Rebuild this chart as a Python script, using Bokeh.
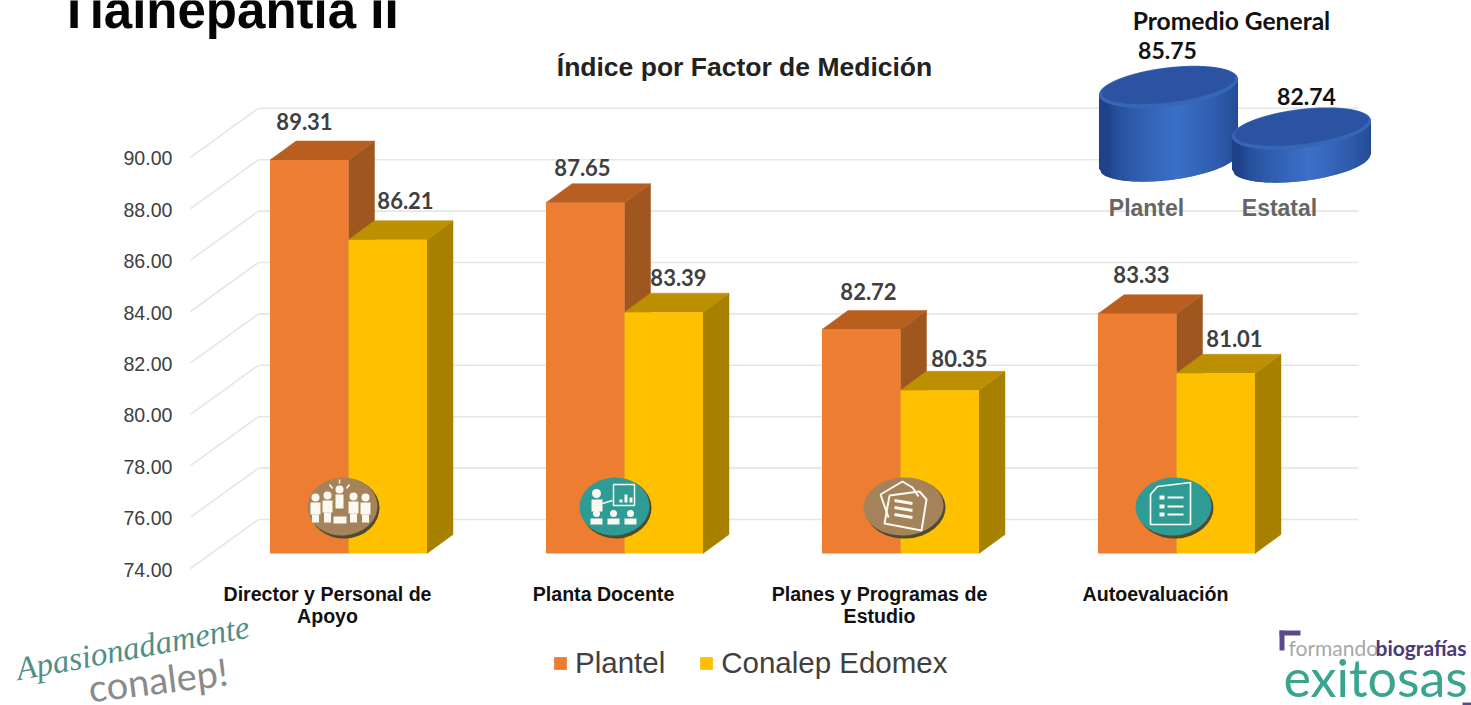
import numpy as np
from bokeh.embed import file_html
from bokeh.resources import INLINE
from bokeh.plotting import figure
from bokeh.core.properties import value
from bokeh.models import (ColumnDataSource, FixedTicker, Label, Legend, LegendItem,
                          LinearAxis, NumeralTickFormatter, Range1d)

# ---- data ----
categories = ["Director y Personal de\nApoyo", "Planta Docente",
              "Planes y Programas de\nEstudio", "Autoevaluación"]
plantel = [89.31, 87.65, 82.72, 83.33]
conalep = [86.21, 83.39, 80.35, 81.01]
axis_ticks = [74, 76, 78, 80, 82, 84, 86, 88, 90]
general_names = ["Plantel", "Estatal"]
general_values = [85.75, 82.74]
series_names = ["Plantel", "Conalep Edomex"]

# ---- layout ----
W, H = 1471, 705
GROUP_PX, JOIN0_PX = 276.0, 348.0     # group spacing, first orange/yellow join
BASE_PX, UNIT_PX = 553.0, 25.7        # value 74 on the bar plane, px per unit
BAR_PX, DX_PX, DY_PX = 78.5, 26.0, 19.0
BASE_VAL = 74.0

def X(px): return (np.asarray(px, dtype=float) - JOIN0_PX) / GROUP_PX
def Y(py): return BASE_VAL + (BASE_PX - np.asarray(py, dtype=float)) / UNIT_PX

p = figure(width=W, height=H, output_backend="svg", toolbar_location=None,
           x_range=Range1d(float(X(0)), float(X(W))),
           y_range=Range1d(float(Y(H)), float(Y(0))),
           x_axis_location=None, y_axis_location=None,
           min_border_left=0, min_border_right=0, min_border_top=0, min_border_bottom=0)
p.outline_line_color = None
p.xgrid.visible = False
p.ygrid.visible = False
p.background_fill_color = "white"

# axis plane sits in front of the bar plane
AX_SHIFT = 16.0 / UNIT_PX
p.extra_y_ranges = {"ticks": Range1d(p.y_range.start + AX_SHIFT, p.y_range.end + AX_SHIFT)}
ax = LinearAxis(y_range_name="ticks", ticker=FixedTicker(ticks=axis_ticks),
                formatter=NumeralTickFormatter(format="0.00"), fixed_location=float(X(184)))
ax.axis_line_color = None
ax.major_tick_line_color = None
ax.minor_tick_line_color = None
ax.major_label_standoff = 6
ax.major_label_text_font = "Liberation Sans"
ax.major_label_text_font_size = "19.6px"
ax.major_label_text_color = "#404040"
p.add_layout(ax, "left")

# ---- 3D wall grid ----
GRID = "#E6E6E6"
bx = float(X(258)); fx = float(X(190)); rx = float(X(1358))
back = 34.0 / UNIT_PX
side_drop = 15.0 / UNIT_PX
p.segment(x0=[fx] * len(axis_ticks), y0=[t - side_drop for t in axis_ticks],
          x1=[bx] * len(axis_ticks), y1=[t + back for t in axis_ticks],
          line_color=GRID, line_width=1.6)
p.segment(x0=[bx] * len(axis_ticks), y0=[t + back for t in axis_ticks],
          x1=[rx] * len(axis_ticks), y1=[t + back for t in axis_ticks],
          line_color=GRID, line_width=1.6)

# ---- 3D bars ----
bw, dx, dy = BAR_PX / GROUP_PX, DX_PX / GROUP_PX, DY_PX / UNIT_PX

def bars(vals, off, front, top, side):
    xl = [i + off for i in range(len(vals))]
    xr = [a + bw for a in xl]
    p.patches(xs=[[r, r + dx, r + dx, r] for r in xr],
              ys=[[BASE_VAL, BASE_VAL + dy, v + dy, v] for v in vals],
              fill_color=side, line_color=side, line_width=0.5)
    p.patches(xs=[[l, l + dx, r + dx, r] for l, r in zip(xl, xr)],
              ys=[[v, v + dy, v + dy, v] for v in vals],
              fill_color=top, line_color=top, line_width=0.5)
    return p.quad(left=xl, right=xr, bottom=[BASE_VAL] * len(vals), top=vals,
                  fill_color=front, line_color=None)

r_pl = bars(plantel, -bw, "#ED7D31", "#B85F20", "#9F571F")
r_co = bars(conalep, 0.0, "#FFC000", "#BC9000", "#A88000")

# ---- value labels ----
def labels(vals, dxs, dys):
    src = ColumnDataSource(dict(x=list(range(len(vals))), y=[v + dy for v in vals],
                                t=[f"{v:.2f}" for v in vals], dx=dxs, dy=dys))
    p.text(x="x", y="y", text="t", x_offset="dx", y_offset="dy", source=src,
           text_font=value("Lato"), text_font_style="bold", text_font_size="22px",
           text_color="#404040", text_align="center", text_baseline="middle")

labels(plantel, [-44, -42, -32, -35], [-20, -16, -19, -20])
labels(conalep, [57, 54, 59, 58], [-20, -16, -13, -16])

# ---- category labels ----
cat_src = ColumnDataSource(dict(x=[i - 21 / GROUP_PX for i in range(4)],
                                y=[float(Y(582))] * 4, t=categories))
p.text(x="x", y="y", text="t", source=cat_src, text_font=value("Liberation Sans"),
       text_font_style="bold", text_font_size="19.6px", text_color="#111111",
       text_align="center", text_baseline="top", text_line_height=1.03)

# ---- small helpers for decoration (pixel positions of the picture) ----
def label(px, py, text, size, color, font="Liberation Sans", style="normal",
          align="center", baseline="middle", angle=0.0):
    p.add_layout(Label(x=float(X(px)), y=float(Y(py)), text=text, text_font=font,
                       text_font_size=f"{size}px", text_font_style=style, text_color=color,
                       text_align=align, text_baseline=baseline, angle=angle))

def ell(cx, cy, w, h, color, deg=0.0):
    p.ellipse(x=[float(X(cx))], y=[float(Y(cy))], width=[w], height=[h],
              width_units="screen", height_units="screen", angle=[float(np.deg2rad(deg))],
              fill_color=color, line_color=None)

def box(l, t, r, b, color):
    p.quad(left=[float(X(l))], right=[float(X(r))], top=[float(Y(t))], bottom=[float(Y(b))],
           fill_color=color, line_color=None)

def path(pts, color, w=1.5):
    pts = np.array(pts, dtype=float)
    p.line(X(pts[:, 0]), Y(pts[:, 1]), line_color=color, line_width=w)

# ---- icons on the bars ----
BROWN, TEAL, SHADOW, WHITE = "#A5835A", "#2E9C95", "#4F4B2E", "#FBF8F0"
def disc(cx, cy, w, color):
    ell(cx + 2, cy + 2, w, 60, SHADOW, 3)
    ell(cx, cy, w, 58, color, 3)

disc(342, 506, 70, BROWN)
for px_, top_ in [(315, 497), (327, 495), (353, 496), (365, 497)]:
    ell(px_, top_, 8, 8, WHITE)
    box(px_ - 5, top_ + 5, px_ + 5, top_ + 17, WHITE)
    box(px_ - 3.5, top_ + 17, px_ + 3.5, 522, WHITE)
ell(339, 489, 8, 8, WHITE)
box(335, 494, 343, 508, WHITE)
box(333, 516, 346, 523, WHITE)
for a, b in [((329, 484), (332, 488)), ((339, 479), (339, 483)), ((349, 484), (346, 488))]:
    path([a, b], WHITE, 1.5)

disc(614, 506, 70, TEAL)
ell(596, 493, 9, 9, WHITE)
box(591, 499, 602, 511, WHITE)
path([(602, 503), (612, 500)], WHITE, 1.5)
path([(613, 484), (634, 484), (634, 505), (613, 505), (613, 484)], WHITE, 1.5)
for l_, t_ in [(619, 499), (624, 494), (629, 497)]:
    box(l_, t_, l_ + 3, 502, WHITE)
for cx_ in [596, 613, 630]:
    ell(cx_, 513, 7, 7, WHITE)
    box(cx_ - 6, 518, cx_ + 6, 524, WHITE)

disc(903, 506, 80, BROWN)
path([(880, 494), (902, 481), (912, 487), (918, 496)], WHITE, 2)
path([(880, 494), (888, 517)], WHITE, 2)
path([(889, 495), (919, 491), (926, 499), (921, 530), (884, 523), (889, 495)], WHITE, 2)
for y_ in [500, 507, 514]:
    path([(894, y_), (912, y_ + 3)], WHITE, 3)

disc(1173, 506, 76, TEAL)
path([(1157, 486), (1190, 482), (1190, 524), (1150, 524), (1150, 494), (1157, 486)], WHITE, 1.7)
for y_ in [497, 506, 514]:
    path([(1159, y_), (1164, y_)], WHITE, 4)
    path([(1167, y_), (1183, y_)], WHITE, 2)

# ---- Promedio General: two tilted cylinders, heights from the values ----
TILT = np.deg2rad(7.0)
CYL_A, CYL_B = 70.0, 19.5
CYL_BASE, CYL_UNIT = 80.3, 13.5

def ellipse_xy(cx, cy, a, b, n=720):
    t = np.linspace(0, 2 * np.pi, n)
    ex = a * np.cos(t) * np.cos(TILT) + b * np.sin(t) * np.sin(TILT)
    ey = -a * np.cos(t) * np.sin(TILT) + b * np.sin(t) * np.cos(TILT)
    return cx + ex, cy + ey

def blend(c0, c1, f):
    a = np.array(c0, dtype=float); b = np.array(c1, dtype=float)
    return "#%02x%02x%02x" % tuple(int(v) for v in (a + (b - a) * f))

def cylinder(cx, base_center, val):
    h = (val - CYL_BASE) * CYL_UNIT
    cy = base_center - h
    ex, ey = ellipse_xy(cx, cy, CYL_A, CYL_B)
    i_r, i_l = int(np.argmax(ex)), int(np.argmin(ex))
    arc_x, arc_y = ex[i_r:i_l + 1][::-1], ey[i_r:i_l + 1][::-1]
    n = 70
    edges = np.linspace(arc_x[0], arc_x[-1], n + 1)
    low = np.interp(edges, arc_x, arc_y)
    u = np.linspace(-1, 1, n + 1)
    lift = 8 * np.sqrt(np.clip(1 - u ** 2, 0, 1))       # keeps strip tops under the ellipse
    for i in range(n):
        f = max(0.0, 1 - abs((i + 0.5) / n - 0.55) * 2.1)
        col = blend((0x1F, 0x43, 0x8A), (0x3C, 0x70, 0xC8), f ** 0.6)
        j = min(i + 2, n)                               # overlap the next strip
        xs_ = X([edges[i], edges[j], edges[j], edges[i]])
        ys_ = Y([low[i] - lift[i], low[j] - lift[j], low[j] + h, low[i] + h])
        p.patch(xs_, ys_, fill_color=col, line_color=None)
    p.patch(X(ex), Y(ey), fill_color="#3566B8", line_color=None)
    ix, iy = ellipse_xy(cx, cy - 1.5, CYL_A - 2.5, CYL_B - 2.5)
    p.patch(X(ix), Y(iy), fill_color="#2B53A1", line_color=None)

cylinder(1168, 160, general_values[0])
cylinder(1301, 161, general_values[1])

label(1231, 20, "Promedio General", 24.6, "#111111", "Lato", "bold")
for px_, py_, v in zip([1167, 1306], [50, 96], general_values):
    label(px_, py_, f"{v:.2f}", 23, "#111111", "Lato", "bold")
for px_, n in zip([1146, 1279], general_names):
    label(px_, 207, n, 23, "#666666", "Liberation Sans", "bold")

# ---- titles ----
label(58, 10, "Tlalnepantla II", 51, "#050505", "Liberation Sans", "bold", "left", "middle")
label(744, 66, "Índice por Factor de Medición", 26.5, "#222222", "Liberation Sans", "bold")

# ---- logos ----
label(16, 669, "Apasionadamente", 33, "#4F8F88", "Liberation Serif", "italic", "left", "alphabetic", float(np.deg2rad(10.5)))
label(88, 687, "conalep!", 38, "#8A8A8A", "Lato", "normal", "left", "alphabetic", float(np.deg2rad(7)))
box(1279, 630, 1284, 650, "#5A4A8A")
box(1279, 630, 1300, 635, "#5A4A8A")
box(1462, 702, 1471, 705, "#5A4A8A")
label(1288, 647, "formando", 21, "#A8A8A8", "Lato", "normal", "left", "middle")
label(1375, 647, "biografías", 21, "#4A3A78", "Lato", "bold", "left", "middle")
label(1283, 676, "exitosas", 52, "#3AA58F", "Lato", "normal", "left", "middle")

# ---- legend ----
legend = Legend(items=[LegendItem(label=series_names[0], renderers=[r_pl]),
                       LegendItem(label=series_names[1], renderers=[r_co])],
                orientation="horizontal", location=(552, 25),
                border_line_color=None, background_fill_alpha=0,
                glyph_width=16, glyph_height=16, label_standoff=7, spacing=33,
                padding=0, margin=0, label_text_font="Liberation Sans",
                label_text_font_size="29.5px", label_text_color="#404040")
p.add_layout(legend, "center")

open("out.html", "w").write(file_html(p, INLINE))
